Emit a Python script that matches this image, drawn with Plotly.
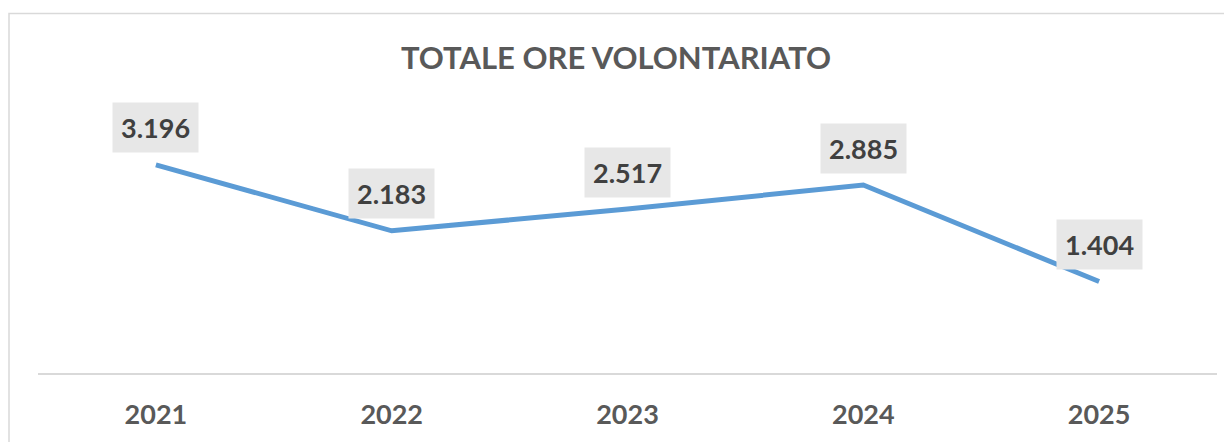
import plotly.graph_objects as go

years = ["2021", "2022", "2023", "2024", "2025"]
ore = [3196, 2183, 2517, 2885, 1404]
labels = ["3.196", "2.183", "2.517", "2.885", "1.404"]

FONT = "Lato"
OFF = 8  # browser default body margin

fig = go.Figure()
fig.add_trace(go.Scatter(
    x=years, y=ore, mode="lines",
    line=dict(color="#5B9BD5", width=5),
    hoverinfo="skip", cliponaxis=False,
))

for i, (y, t) in enumerate(zip(ore, labels)):
    fig.add_annotation(
        x=i, y=y, xref="x", yref="y", text="<b>%s</b>" % t, showarrow=False,
        yshift=37, bgcolor="#E7E7E7", borderpad=8,
        font=dict(family=FONT, size=27, color="#404040"),
    )

W, H = 1232, 442
L, R, T, B = 38 - OFF, 15 + OFF, 145 - OFF, 69 + OFF
pw = W - L - R
ph = H - T - B
fig.add_shape(
    type="rect", xref="paper", yref="paper",
    x0=(9 - OFF - L) / pw, x1=1.2, y0=-1, y1=1 + (T - (13.5 - OFF)) / ph,
    line=dict(color="#D9D9D9", width=1.5), fillcolor="rgba(0,0,0,0)",
    layer="below",
)

fig.update_layout(
    width=W, height=H,
    margin=dict(l=L, r=R, t=T, b=B),
    paper_bgcolor="white", plot_bgcolor="white",
    showlegend=False,
    title=dict(
        text="<b>TOTALE ORE VOLONTARIATO</b>",
        x=(616 - OFF) / W, xanchor="center", y=1 - (58 - OFF) / H, yanchor="middle",
        yref="container", xref="container",
        font=dict(family=FONT, size=31, color="#595959"),
    ),
    xaxis=dict(
        type="category", automargin=False, autorange=False,
        range=[-0.5, len(years) - 0.5],
        showgrid=False, zeroline=False,
        showline=True, linecolor="#D9D9D9", linewidth=1.5,
        ticks="", ticklabelstandoff=17,
        tickfont=dict(family=FONT, size=27, color="#595959"),
        tickprefix="<b>", ticksuffix="</b>",
        fixedrange=True,
    ),
    yaxis=dict(range=[0, 3500], autorange=False, visible=False,
               fixedrange=True, automargin=False),
)

fig.write_html("out.html")
